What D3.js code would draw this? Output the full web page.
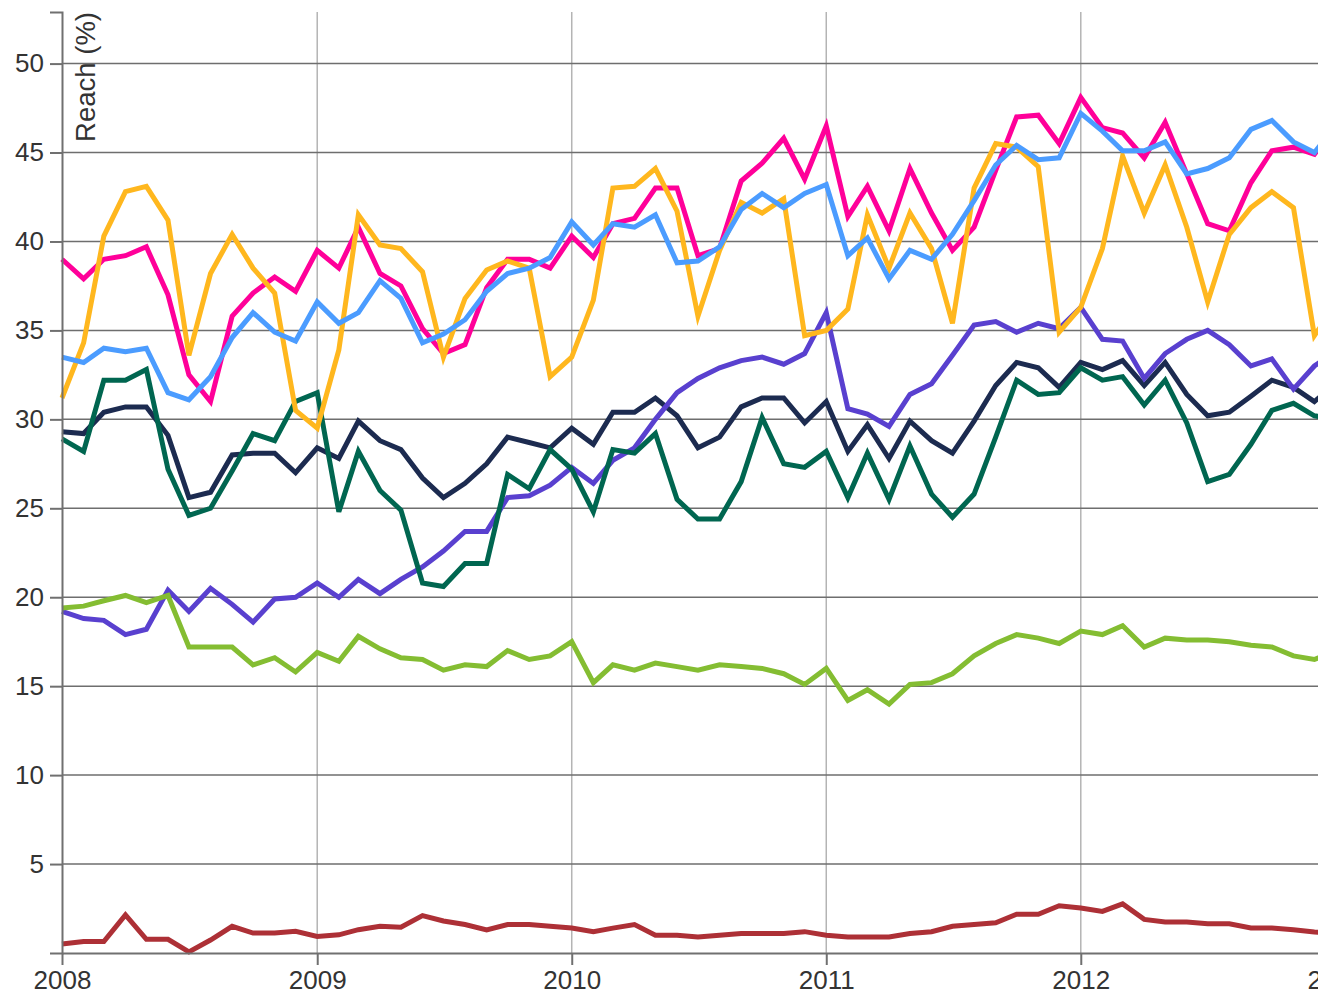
<!doctype html>
<html lang="en">
    <head>
        <meta charset="utf-8">
        <title>Reach (%)</title>
        <script src="https://d3js.org/d3.v7.min.js"></script>
        <style>
            body { margin: 0; background: #fff; }
            svg { display: block; overflow: hidden; font-family: "Liberation Sans", Arial, sans-serif; }
            .grid-y line { stroke: #6e6e6e; stroke-width: 1.5px; }
            .grid-x line { stroke: #b4b4b4; stroke-width: 1.5px; }
            .axis path, .axis line { stroke: #707070; stroke-width: 2px; fill: none; }
            .axis text { fill: #333; font-size: 26px; }
            .series { fill: none; stroke-width: 5px; stroke-linejoin: miter; }
        </style>
    </head>
    <body>
        <svg width="1318" height="994"></svg>
        <script>
            // monthly values, Jan 2008 onwards
            var startYear = 2008;
            var yearTicks = [2008, 2009, 2010, 2011, 2012, 2013];
            var yTicks = [5, 10, 15, 20, 25, 30, 35, 40, 45, 50];

            var red = [0.5,0.64,0.64,2.14,0.77,0.77,0.06,0.73,1.5,1.12,1.12,1.22,
                0.93,1.02,1.31,1.5,1.45,2.1,1.8,1.6,1.3,1.6,1.6,1.5,
                1.4,1.2,1.4,1.6,1.0,1.0,0.9,1.0,1.1,1.1,1.1,1.2,
                1.0,0.9,0.9,0.9,1.1,1.2,1.5,1.6,1.7,2.18,2.18,2.66,
                2.53,2.34,2.76,1.89,1.74,1.74,1.64,1.64,1.41,1.41,1.31,1.18,
                1.1];
            var navy = [29.3,29.2,30.4,30.7,30.7,29.1,25.6,25.9,28.0,28.1,28.1,27.0,
                28.4,27.8,29.9,28.8,28.3,26.7,25.6,26.4,27.5,29.0,28.7,28.4,
                29.5,28.6,30.4,30.4,31.2,30.2,28.4,29.0,30.7,31.2,31.2,29.8,
                31.0,28.2,29.7,27.8,29.9,28.8,28.1,29.9,31.9,33.2,32.9,31.8,
                33.2,32.8,33.3,31.9,33.2,31.4,30.2,30.4,31.3,32.2,31.8,31.0,
                32.0];
            var purple = [19.2,18.8,18.7,17.9,18.2,20.4,19.2,20.5,19.6,18.6,19.9,20.0,
                20.8,20.0,21.0,20.2,21.0,21.7,22.6,23.7,23.7,25.6,25.7,26.3,
                27.3,26.4,27.7,28.4,30.0,31.5,32.3,32.9,33.3,33.5,33.1,33.7,
                36.0,30.6,30.3,29.6,31.4,32.0,33.6,35.3,35.5,34.9,35.4,35.1,
                36.3,34.5,34.4,32.3,33.7,34.5,35.0,34.2,33.0,33.4,31.7,33.0,
                33.8];
            var teal = [28.9,28.2,32.2,32.2,32.8,27.2,24.6,25.0,27.1,29.2,28.8,31.0,
                31.5,24.8,28.2,26.0,24.9,20.8,20.6,21.9,21.9,26.9,26.1,28.3,
                27.2,24.8,28.3,28.1,29.2,25.5,24.4,24.4,26.5,30.1,27.5,27.3,
                28.2,25.6,28.1,25.5,28.5,25.8,24.5,25.8,29.0,32.2,31.4,31.5,
                32.9,32.2,32.4,30.8,32.2,29.8,26.5,26.9,28.6,30.5,30.9,30.2,
                30.0];
            var green = [19.4,19.5,19.8,20.1,19.7,20.1,17.2,17.2,17.2,16.2,16.6,15.8,
                16.9,16.4,17.8,17.1,16.6,16.5,15.9,16.2,16.1,17.0,16.5,16.7,
                17.5,15.2,16.2,15.9,16.3,16.1,15.9,16.2,16.1,16.0,15.7,15.1,
                16.0,14.2,14.8,14.0,15.1,15.2,15.7,16.7,17.4,17.9,17.7,17.4,
                18.1,17.9,18.4,17.2,17.7,17.6,17.6,17.5,17.3,17.2,16.7,16.5,
                17.0];
            var pink = [39.0,37.9,39.0,39.2,39.7,37.0,32.5,31.0,35.8,37.1,38.0,37.2,
                39.5,38.5,40.8,38.2,37.5,35.1,33.7,34.2,37.4,39.0,39.0,38.5,
                40.3,39.1,41.0,41.3,43.0,43.0,39.2,39.6,43.4,44.4,45.8,43.5,
                46.5,41.4,43.1,40.6,44.1,41.6,39.5,40.8,44.0,47.0,47.1,45.5,
                48.1,46.4,46.1,44.7,46.7,43.8,41.0,40.6,43.3,45.1,45.3,44.9,
                46.5];
            var orange = [31.2,34.3,40.3,42.8,43.1,41.2,33.6,38.2,40.4,38.5,37.1,30.5,
                29.5,33.9,41.5,39.8,39.6,38.3,33.5,36.8,38.4,38.9,38.5,32.4,
                33.5,36.7,43.0,43.1,44.1,41.7,35.8,39.5,42.2,41.6,42.4,34.7,
                35.0,36.2,41.5,38.5,41.6,39.6,35.4,43.0,45.5,45.3,44.2,34.9,
                36.3,39.6,44.8,41.6,44.3,40.8,36.6,40.4,41.9,42.8,41.9,34.7,
                36.5];
            var blue = [33.5,33.2,34.0,33.8,34.0,31.5,31.1,32.4,34.6,36.0,34.9,34.4,
                36.6,35.4,36.0,37.8,36.8,34.3,34.8,35.6,37.2,38.2,38.5,39.1,
                41.1,39.8,41.0,40.8,41.5,38.8,38.9,39.7,41.8,42.7,41.9,42.7,
                43.2,39.2,40.2,37.9,39.5,39.0,40.4,42.3,44.3,45.4,44.6,44.7,
                47.2,46.2,45.1,45.1,45.6,43.8,44.1,44.7,46.3,46.8,45.6,45.0,
                46.5];

            // drawing order: first one ends up at the back
            var series = [red, navy, purple, teal, green, pink, orange, blue];
            var colors = ["#ad3036", "#1c2b50", "#5940cf", "#006650", "#84bd32", "#ff0099", "#ffb71e", "#4b9cff"];

            var margin = {left: 62, top: 12};
            var svg = d3.select("svg");
            var height = 953 - margin.top;
            var width = 1336 - margin.left;   // runs past the svg edge, gets clipped

            var g = svg.append("g")
                .attr("transform", "translate(" + margin.left + "," + margin.top + ")");

            var xScale = d3.scaleTime()
                .domain([new Date(yearTicks[0], 0, 1), new Date(yearTicks[yearTicks.length - 1], 0, 1)])
                .range([0, width]);

            var yScale = d3.scaleLinear()
                .domain([0, 52.9])
                .range([height, 0]);

            var yearDates = yearTicks.map(function(y) { return new Date(y, 0, 1); });

            // gridlines
            g.append("g")
                .attr("class", "grid-x")
                .selectAll("line")
                .data(yearDates.slice(1))
                .enter().append("line")
                .attr("x1", function(d) { return xScale(d); })
                .attr("x2", function(d) { return xScale(d); })
                .attr("y1", 0)
                .attr("y2", height);

            g.append("g")
                .attr("class", "grid-y")
                .selectAll("line")
                .data(yTicks)
                .enter().append("line")
                .attr("x1", 0)
                .attr("x2", width)
                .attr("y1", function(d) { return yScale(d); })
                .attr("y2", function(d) { return yScale(d); });

            // series
            var line = d3.line()
                .x(function(d, i) { return xScale(new Date(startYear, i, 1)); })
                .y(function(d) { return yScale(d); });

            g.append("g")
                .selectAll("path")
                .data(series)
                .enter().append("path")
                .attr("class", "series")
                .style("stroke", function(d, i) { return colors[i]; })
                .attr("d", line);

            // axes
            g.append("g")
                .attr("class", "axis")
                .attr("transform", "translate(0," + height + ")")
                .call(d3.axisBottom(xScale)
                    .tickValues(yearDates)
                    .tickFormat(d3.timeFormat("%Y"))
                    .tickSize(12)
                    .tickSizeOuter(0)
                    .tickPadding(6));

            g.append("g")
                .attr("class", "axis")
                .call(d3.axisLeft(yScale)
                    .tickValues(yTicks)
                    .tickSize(12)
                    .tickPadding(6));

            g.append("text")
                .attr("transform", "rotate(-90)")
                .attr("x", 0)
                .attr("y", 33)
                .attr("text-anchor", "end")
                .style("font-size", "27.5px")
                .style("fill", "#333")
                .text("Reach (%)");
        </script>
    </body>
</html>
